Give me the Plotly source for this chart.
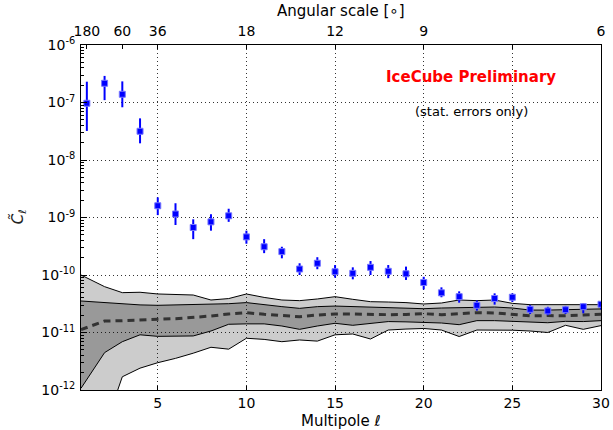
import plotly.graph_objects as go

# ---------------- data ----------------
multipole = list(range(1, 31))
cl_values = [9.7e-8, 2.16e-7, 1.39e-7, 3.16e-8, 1.6e-9, 1.15e-9, 6.7e-10, 8.4e-10, 1.07e-9, 4.6e-10,
             3.1e-10, 2.55e-10, 1.27e-10, 1.6e-10, 1.14e-10, 1.07e-10, 1.36e-10, 1.16e-10, 1.05e-10, 7.4e-11,
             4.9e-11, 4.2e-11, 2.97e-11, 3.9e-11, 4.1e-11, 2.53e-11, 2.37e-11, 2.49e-11, 2.81e-11, 3.1e-11]
cl_upper = [2.3e-7, 2.9e-7, 2.33e-7, 5.3e-8, 2.24e-9, 1.77e-9, 9.3e-10, 1.14e-9, 1.42e-9, 5.9e-10,
            4.2e-10, 3.1e-10, 1.6e-10, 2.04e-10, 1.49e-10, 1.36e-10, 1.75e-10, 1.49e-10, 1.4e-10, 9.3e-11,
            6.1e-11, 5.2e-11, 3.6e-11, 4.8e-11, 4.8e-11, 3.0e-11, 2.8e-11, 2.9e-11, 3.2e-11, 3.4e-11]
cl_lower = [3.2e-8, 1.1e-7, 8.26e-8, 1.95e-8, 1.1e-9, 7.4e-10, 4.2e-10, 5.9e-10, 8.4e-10, 3.5e-10,
            2.4e-10, 1.95e-10, 1.0e-10, 1.26e-10, 9.0e-11, 8.4e-11, 1.0e-10, 8.8e-11, 8.2e-11, 5.6e-11,
            4.1e-11, 3.3e-11, 2.4e-11, 3.05e-11, 3.4e-11, 2.1e-11, 2.0e-11, 2.1e-11, 2.16e-11, 2.5e-11]

# isotropic expectation bands (log10 C_l); first entry at the left edge of the axis
band_l = [0.67] + list(range(2, 31))
band_outer_hi = [-10.0, -10.203, -10.307, -10.30, -10.33, -10.343, -10.348, -10.435, -10.41, -10.33,
                 -10.39, -10.435, -10.446, -10.417, -10.377, -10.423, -10.464, -10.47, -10.48, -10.504,
                 -10.487, -10.435, -10.446, -10.435, -10.493, -10.516, -10.516, -10.504, -10.516, -10.516]
band_inner_hi = [-10.452, -10.48, -10.51, -10.52, -10.527, -10.52, -10.516, -10.504, -10.499, -10.48,
                 -10.52, -10.55, -10.58, -10.55, -10.54, -10.55, -10.56, -10.57, -10.57, -10.586,
                 -10.574, -10.57, -10.574, -10.557, -10.574, -10.61, -10.61, -10.6, -10.6, -10.59]
band_median = [-10.95, -10.80, -10.794, -10.788, -10.77, -10.76, -10.743, -10.713, -10.678, -10.655,
               -10.684, -10.708, -10.725, -10.696, -10.678, -10.678, -10.69, -10.69, -10.685, -10.673,
               -10.69, -10.678, -10.655, -10.66, -10.69, -10.71, -10.705, -10.71, -10.696, -10.684]
band_inner_lo = [-11.97, -11.35, -11.16, -11.04, -11.067, -11.07, -11.06, -10.974, -10.857, -10.85,
                 -10.85, -10.887, -10.945, -10.887, -10.84, -10.875, -10.84, -10.81, -10.815, -10.823,
                 -10.835, -10.864, -10.794, -10.794, -10.806, -10.83, -10.83, -10.806, -10.81, -10.794]
band_outer_lo = [-12.7, -12.66, -11.77, -11.62, -11.525, -11.45, -11.36, -11.257, -11.29, -11.1,
                 -11.12, -11.16, -11.13, -11.15, -11.04, -11.026, -11.113, -10.957, -10.94, -10.93,
                 -10.957, -11.07, -10.957, -10.957, -10.96, -10.974, -11.0, -10.875, -10.945, -10.88]

x_ticks = [5, 10, 15, 20, 25, 30]
top_tick_l = [1, 3, 5, 10, 15, 20, 25, 30]
top_tick_labels = ["180", "60", "36", "18", "12", "9", "", "6"]
y_exponents = [-12, -11, -10, -9, -8, -7, -6]
x_range = [0.67, 30]

# ---------------- figure ----------------
def p10(v):
    return [10 ** a for a in v]

FONT = "DejaVu Sans"
fig = go.Figure()
edge = dict(color="black", width=1)

fig.add_trace(go.Scatter(x=band_l, y=p10(band_outer_lo), mode="lines", line=edge,
                         showlegend=False, hoverinfo="skip"))
fig.add_trace(go.Scatter(x=band_l, y=p10(band_outer_hi), mode="lines", line=edge, fill="tonexty",
                         fillcolor="rgba(0,0,0,0.2)", showlegend=False, hoverinfo="skip"))
fig.add_trace(go.Scatter(x=band_l, y=p10(band_inner_lo), mode="lines", line=edge,
                         showlegend=False, hoverinfo="skip"))
fig.add_trace(go.Scatter(x=band_l, y=p10(band_inner_hi), mode="lines", line=edge, fill="tonexty",
                         fillcolor="rgba(0,0,0,0.25)", showlegend=False, hoverinfo="skip"))
fig.add_trace(go.Scatter(x=band_l, y=p10(band_median), mode="lines",
                         line=dict(color="#333333", width=3, dash="7px,5px"),
                         showlegend=False, hoverinfo="skip"))

err_plus = [u - v for u, v in zip(cl_upper, cl_values)]
err_minus = [v - d for v, d in zip(cl_values, cl_lower)]
fig.add_trace(go.Scatter(
    x=multipole, y=cl_values, mode="markers",
    marker=dict(symbol="square", size=6, color="#0000ff", line=dict(color="#7777ff", width=1)),
    error_y=dict(type="data", symmetric=False, array=err_plus, arrayminus=err_minus,
                 color="#0000ff", thickness=2, width=0),
    showlegend=False))

# dummy trace to anchor the top axis
fig.add_trace(go.Scatter(x=[x_range[0]], y=[None], xaxis="x2", mode="markers",
                         showlegend=False, hoverinfo="skip"))

minor_vals = [m * 10 ** e for e in y_exponents[:-1] for m in range(2, 10)]

fig.update_layout(
    width=613, height=430,
    margin=dict(l=81, r=12, t=45, b=40),
    paper_bgcolor="white", plot_bgcolor="white",
    font=dict(family=FONT, size=14, color="black"),
    xaxis=dict(range=x_range, tickmode="array", tickvals=x_ticks, automargin=False,
               ticks="inside", ticklen=4, tickcolor="black",
               showline=True, linecolor="black", linewidth=1, mirror=True,
               showgrid=True, gridcolor="#333333", gridwidth=1, griddash="1px,3px",
               zeroline=False, tickfont=dict(size=14)),
    xaxis2=dict(range=x_range, overlaying="x", side="top", tickmode="array", automargin=False,
                tickvals=top_tick_l, ticktext=top_tick_labels, ticklabelstandoff=5,
                ticks="inside", ticklen=4, tickcolor="black", showgrid=False,
                zeroline=False, tickfont=dict(size=14)),
    yaxis=dict(type="log", range=[-12, -6], tickmode="array", automargin=False,
               tickvals=[10 ** e for e in y_exponents],
               ticktext=[f"10<sup>{e}</sup>" for e in y_exponents],
               ticklabelstandoff=2,
               ticks="inside", ticklen=6, tickcolor="black",
               minor=dict(tickmode="array", tickvals=minor_vals, ticks="inside", ticklen=3,
                          tickcolor="black", showgrid=False),
               showline=True, linecolor="black", linewidth=1, mirror=True,
               showgrid=True, gridcolor="#333333", gridwidth=1, griddash="1px,3px",
               zeroline=False, tickfont=dict(size=14)),
    annotations=[
        dict(text="<b>IceCube Preliminary</b>", xref="paper", yref="paper", x=0.75, y=0.907,
             xanchor="center", yanchor="middle",
             showarrow=False, font=dict(family=FONT, size=15, color="#ff0000")),
        dict(text="(stat. errors only)", xref="paper", yref="paper", x=0.75, y=0.806,
             xanchor="center", yanchor="middle",
             showarrow=False, font=dict(family=FONT, size=13, color="black")),
        dict(text="Multipole <i>ℓ</i>", xref="paper", yref="paper", x=0.5, y=-0.09,
             xanchor="center", yanchor="middle",
             showarrow=False, font=dict(family=FONT, size=15, color="black")),
        dict(text="Angular scale [∘]", xref="paper", yref="paper", x=0.5, y=1.098,
             xanchor="center", yanchor="middle",
             showarrow=False, font=dict(family=FONT, size=15, color="black")),
        dict(text="<i>C̃</i><sub><i>ℓ</i></sub>", xref="paper", yref="paper", x=-0.121, y=0.501,
             xanchor="center", yanchor="middle", textangle=-90,
             showarrow=False, font=dict(family=FONT, size=15, color="#222222")),
    ],
)

# remove the default 8px page margin so the figure sits at the window's top-left corner
fig.write_html("out.html", post_script="document.body.style.margin='0px';",
               config={"displayModeBar": False})
